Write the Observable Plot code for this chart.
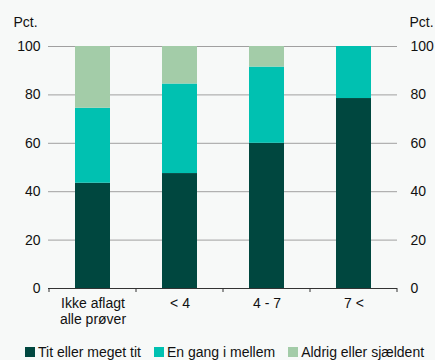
<!DOCTYPE html>
<html>
<head>
<meta charset="utf-8">
<script src="https://cdn.jsdelivr.net/npm/d3@7"></script>
<script src="https://cdn.jsdelivr.net/npm/@observablehq/plot@0.6"></script>
<style>
  body { margin: 0; background: #f7f9f8; font-family: "Liberation Sans", Arial, sans-serif; }
  #chart svg { display: block; }
  #legend { display: flex; flex-wrap: nowrap; white-space: nowrap; font-size: 14px; color: #111; height: 20px; align-items: center; padding-left: 25px; margin-top: 5px; width: 430px; }
  #legend .item { display: flex; flex-shrink: 0; align-items: center; margin-right: 13px; }
  #legend .sw { width: 10px; height: 10px; margin-right: 3px; flex-shrink: 0; }
</style>
</head>
<body>
<div id="chart"></div>
<div id="legend"></div>
<script>
const categories = ["Ikke aflagt\nalle prøver", "< 4", "4 - 7", "7 <"];
const seriesNames = ["Tit eller meget tit", "En gang i mellem", "Aldrig eller sjældent"];
const titValues = [43.5, 47.5, 60, 78.5];
const engangValues = [31, 37, 31.5, 21.5];
const aldrigValues = [25.5, 15.5, 8.5, 0];
const colors = ["#00473f", "#00c1b1", "#a3cca8"];
const yTicks = [0, 20, 40, 60, 80, 100];

const seriesValues = [titValues, engangValues, aldrigValues];
const data = [];
seriesNames.forEach((s, i) => categories.forEach((c, j) => data.push({cat: c, series: s, value: seriesValues[i][j]})));

const W = 435, H = 337;
const plot = Plot.plot({
  width: W, height: H,
  marginTop: 46, marginBottom: 49, marginLeft: 48, marginRight: 38,
  style: {fontFamily: "Liberation Sans, Arial, sans-serif", fontSize: "14px", background: "transparent", color: "#111"},
  x: {domain: categories, paddingInner: 0.6, paddingOuter: 0.3, axis: null},
  y: {domain: [0, 100], axis: null},
  color: {domain: seriesNames, range: colors},
  marks: [
    Plot.ruleY(yTicks.filter(d => d > 0), {stroke: "#a0a0a0", strokeWidth: 1}),
    Plot.barY(data, {x: "cat", y: "value", fill: "series", order: seriesNames}),
    Plot.ruleY([0], {stroke: "#333", strokeWidth: 1}),
    Plot.axisY(yTicks, {anchor: "left", tickSize: 0, tickPadding: 8, fontSize: 14, label: null}),
    Plot.axisY(yTicks, {anchor: "right", tickSize: 0, tickPadding: 13, fontSize: 14, label: null, textAnchor: "start"}),
    Plot.text(categories, {x: d => d, frameAnchor: "bottom", dy: 9, lineAnchor: "top", fontSize: 14, lineHeight: 1.1}),
    Plot.text(["Pct."], {frameAnchor: "top-left", dx: -35, dy: -24, lineAnchor: "middle", fontSize: 14, textAnchor: "start"}),
    Plot.text(["Pct."], {frameAnchor: "top-right", dx: 12, dy: -24, lineAnchor: "middle", fontSize: 14, textAnchor: "start"})
  ]
});
document.getElementById("chart").appendChild(plot);

// band-boundary tick marks on the x axis
const svg = d3.select(plot);
const xs = plot.scale("x");
const bw = xs.bandwidth, step = xs.step;
const bounds = [];
categories.forEach((c, i) => { bounds.push(xs.apply(c) - (step - bw) / 2); });
bounds.push(xs.apply(categories[categories.length - 1]) + bw + (step - bw) / 2);
const y0 = plot.scale("y").apply(0);
svg.append("g").selectAll("line").data(bounds).join("line")
  .attr("x1", d => d).attr("x2", d => d).attr("y1", y0).attr("y2", y0 + 4)
  .attr("stroke", "#333");

const legend = document.getElementById("legend");
seriesNames.forEach((s, i) => {
  const item = document.createElement("div"); item.className = "item";
  const sw = document.createElement("div"); sw.className = "sw"; sw.style.background = colors[i];
  const t = document.createElement("span"); t.textContent = s;
  item.appendChild(sw); item.appendChild(t); legend.appendChild(item);
});
</script>
</body>
</html>
